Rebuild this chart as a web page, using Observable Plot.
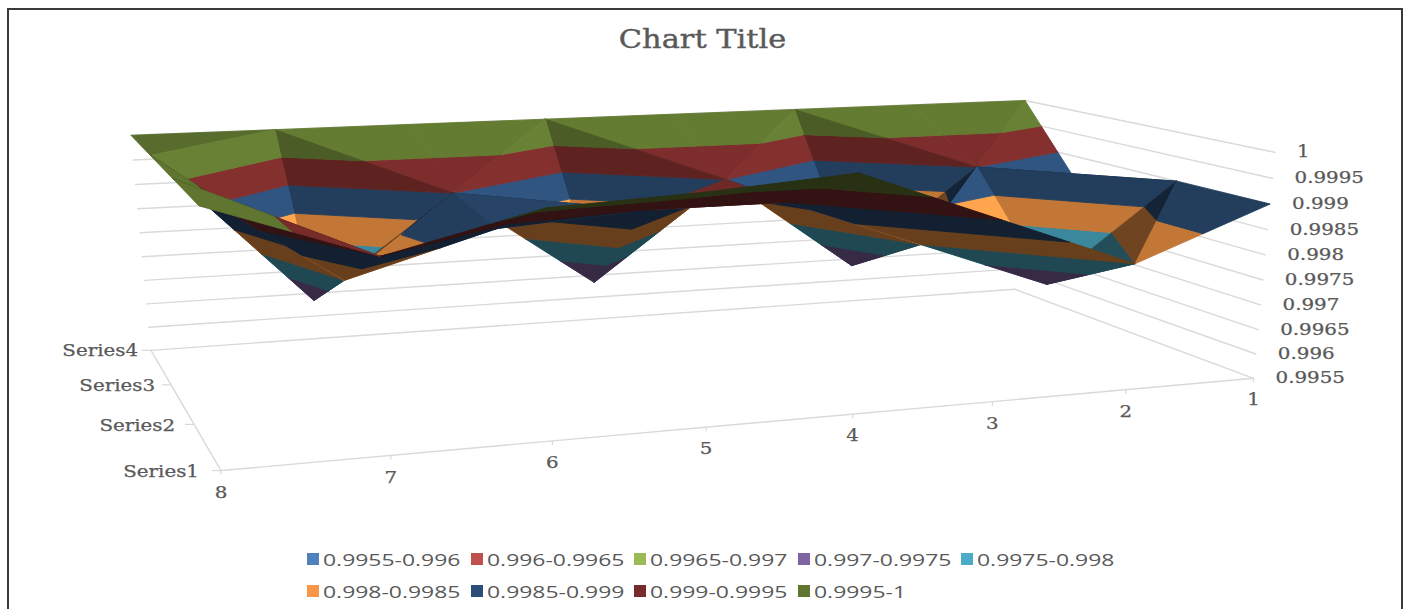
<!DOCTYPE html>
<html>
<head>
<meta charset="utf-8">
<script src="https://cdn.jsdelivr.net/npm/d3@7"></script>
<script src="https://cdn.jsdelivr.net/npm/@observablehq/plot@0.6"></script>
<style>
  html, body { margin: 0; background: #fff; }
  #page { position: relative; width: 1409px; height: 609px; overflow: hidden; }
  #frame { position: absolute; left: 7px; top: 8px; width: 1396px; height: 620px; border: 2px solid #3a3a3a; box-sizing: border-box; }
  #title { position: absolute; left: 0; width: 1406px; top: 22px; text-align: center; font: 400 26px "DejaVu Serif"; color: #595959; line-height: 34px; -webkit-text-stroke: 0.4px #595959; }
  #title span { display: inline-block; transform: scaleX(1.17); }
  #legend { position: absolute; left: 307px; top: 543px; display: grid; grid-template-columns: repeat(5, 163.5px); grid-auto-rows: 32px; font: 16.5px "Open Sans"; color: #595959; }
  #legend div { display: flex; align-items: center; white-space: nowrap; }
  #legend i { width: 12px; height: 12px; margin-right: 4px; flex: none; }
  #legend span { display: inline-block; transform: scaleX(1.39); transform-origin: left center; }
  svg { position: absolute; left: 0; top: 0; }
</style>
</head>
<body>
<div id="page">
  <div id="frame"></div>
  <div id="title"><span>Chart Title</span></div>
  <div id="chart"></div>
  <div id="legend"></div>
</div>
<script>
// Surface values, one array per series, listed from category 1 to category 8.
const categories = ["1", "2", "3", "4", "5", "6", "7", "8"];
const seriesNames = ["Series1", "Series2", "Series3", "Series4"];
const series1 = [0.999, 0.998, 0.999, 1, 0.9998, 0.99967, 0.999, 1];
const series2 = [0.999, 0.997, 0.998, 0.999, 0.999, 0.9988, 0.998, 1];
const series3 = [0.998, 0.999, 0.997, 0.999, 0.997, 0.999, 0.997, 1];
const series4 = [1, 1, 1, 1, 1, 1, 1, 1];
const zTicks = ["0.9955", "0.996", "0.9965", "0.997", "0.9975", "0.998", "0.9985", "0.999", "0.9995", "1"];
const bandLabels = ["0.9955-0.996", "0.996-0.9965", "0.9965-0.997", "0.997-0.9975", "0.9975-0.998", "0.998-0.9985", "0.9985-0.999", "0.999-0.9995", "0.9995-1"];
const bandColors = ["#4f81bd", "#c0504d", "#9bbb59", "#8064a2", "#4bacc6", "#f79646", "#2c4d75", "#772c2a", "#5f7530"];

const grid = [series1, series2, series3, series4];
const zValues = zTicks.map(Number);
const zMin = zValues[0], zMax = zValues[zValues.length - 1];

// Perspective camera of the 3D box, solved from where its eight corners land on the page.
// Each entry is [cat 0..1, series 0..1, height 0..1, pageX, pageY].
const boxCorners = [
  [1, 1, 0, 150, 350], [0, 1, 0, 1015, 288.5], [0, 0, 0, 1252.5, 378], [1, 0, 0, 221, 470],
  [1, 1, 1, 131, 135], [0, 1, 1, 1024, 100], [0, 0, 1, 1275, 152], [1, 0, 1, 198, 205]
];

function solveCamera(corners) {
  const rows = [];
  for (const [u, v, w, x, y] of corners) {
    rows.push([u, v, w, 1, 0, 0, 0, 0, -x * u, -x * v, -x * w, x]);
    rows.push([0, 0, 0, 0, u, v, w, 1, -y * u, -y * v, -y * w, y]);
  }
  const n = 11;
  const m = d3.range(n).map(i => d3.range(n + 1).map(j => d3.sum(rows, r => r[i] * r[j === n ? 11 : j])));
  for (let i = 0; i < n; i++) {
    let p = i;
    for (let r = i + 1; r < n; r++) if (Math.abs(m[r][i]) > Math.abs(m[p][i])) p = r;
    [m[i], m[p]] = [m[p], m[i]];
    for (let r = 0; r < n; r++) {
      if (r === i) continue;
      const f = m[r][i] / m[i][i];
      for (let c = i; c <= n; c++) m[r][c] -= f * m[i][c];
    }
  }
  return m.map((r, i) => r[n] / r[i]);
}
const cam = solveCamera(boxCorners);

// Projects a position (category number, series number, value) onto the page plane.
function project(cat, ser, z) {
  const u = (cat - 1) / 7, v = (ser - 1) / 3, w = (z - zMin) / (zMax - zMin);
  const d = cam[8] * u + cam[9] * v + cam[10] * w + 1;
  return [
    (cam[0] * u + cam[1] * v + cam[2] * w + cam[3]) / d,
    (cam[4] * u + cam[5] * v + cam[6] * w + cam[7]) / d
  ];
}

// Clips a polygon of 3D points to the half space where sign * (z - limit) >= 0.
function clip(poly, limit, sign) {
  const out = [];
  poly.forEach((a, i) => {
    const b = poly[(i + 1) % poly.length];
    const da = sign * (a[2] - limit), db = sign * (b[2] - limit);
    if (da >= 0) out.push(a);
    if ((da > 0 && db < 0) || (da < 0 && db > 0)) {
      const t = da / (da - db);
      out.push([a[0] + t * (b[0] - a[0]), a[1] + t * (b[1] - a[1]), a[2] + t * (b[2] - a[2])]);
    }
  });
  return out;
}

const signedArea = pts => (pts[1][0] - pts[0][0]) * (pts[2][1] - pts[0][1]) - (pts[2][0] - pts[0][0]) * (pts[1][1] - pts[0][1]);

// Brightness of a face: undersides and faces tipped away from the front are dim,
// the rest depend on their slope along the categories and towards the front.
function brightness(tri) {
  const flatArea = signedArea(tri.map(p => project(p[0], p[1], zMin)));
  const seenArea = signedArea(tri.map(p => project(p[0], p[1], p[2])));
  if (flatArea * seenArea <= 0) return 0.42;
  const [a, b, c] = tri;
  const det = (b[0] - a[0]) * (c[1] - a[1]) - (c[0] - a[0]) * (b[1] - a[1]);
  const slopeCat = ((b[2] - a[2]) * (c[1] - a[1]) - (c[2] - a[2]) * (b[1] - a[1])) / det;
  const slopeSer = ((c[2] - a[2]) * (b[0] - a[0]) - (b[2] - a[2]) * (c[0] - a[0])) / det;
  if (slopeSer < -0.0003) return 0.45;
  if (slopeSer < 0.0003 && slopeCat < -0.0015) return 0.98;
  if (slopeSer < 0.0003 && slopeCat > 0) return 1.0;
  const base = slopeSer >= 0.0004 ? 1.05 : 0.93;
  return Math.max(0.79, Math.min(1.1, base + 0.25 * slopeCat / 0.001));
}

function shaded(color, k) {
  const c = d3.rgb(color);
  return d3.rgb(Math.min(255, c.r * k), Math.min(255, c.g * k), Math.min(255, c.b * k)).formatHex();
}

// Splits the surface into triangles, back row first and the far category first, so nearer faces paint over.
const vertex = (col, row) => [col + 1, row + 1, grid[row][col]];
const facePieces = [];
let pieceId = 0;
for (let row = seriesNames.length - 1; row > 0; row--) {
  for (let col = 0; col < categories.length - 1; col++) {
    const bl = vertex(col, row), br = vertex(col + 1, row), fl = vertex(col, row - 1), fr = vertex(col + 1, row - 1);
    const tris = bl[2] + fr[2] >= br[2] + fl[2]
      ? [[bl, br, fr], [bl, fr, fl]]
      : [[br, fr, fl], [br, fl, bl]];
    const depth = t => d3.sum(t, p => p[0] - p[1]);
    tris.sort((a, b) => depth(a) - depth(b));
    for (const tri of tris) {
      const k = brightness(tri);
      bandColors.forEach((color, i) => {
        let poly = clip(tri, zValues[i], 1);
        if (poly.length) poly = clip(poly, zValues[i + 1], -1);
        if (poly.length < 3) return;
        const fill = shaded(color, k);
        const id = pieceId++;
        for (const p of [...poly, poly[0]]) {
          const [px, py] = project(p[0], p[1], p[2]);
          facePieces.push({id, px, py, fill});
        }
      });
    }
  }
}

// Floor edges and the grid lines on the two walls.
const axisLines = [];
const addLine = (id, a, b) => {
  for (const p of [a, b]) {
    const [px, py] = project(...p);
    axisLines.push({id, px, py});
  }
};
addLine("front", [8, 1, zMin], [1, 1, zMin]);
addLine("left", [8, 1, zMin], [8, 4, zMin]);
zValues.forEach(z => {
  addLine("back" + z, [8, 4, z], [1, 4, z]);
  addLine("side" + z, [1, 4, z], [1, 1, z]);
});

const catAxis = categories.map((label, i) => {
  const [px, py] = project(i + 1, 1, zMin);
  return {label, px, py};
});
const serAxis = seriesNames.map((label, i) => {
  const [px, py] = project(8, i + 1, zMin);
  return {label, px, py, gap: 22 - 3 * i};
});
const valAxis = zTicks.map((label, i) => {
  const [px, py] = project(1, 1, zValues[i]);
  return {label, px, py};
});

const labelStyle = {fontFamily: "DejaVu Serif", fontSize: 16, fill: "#595959", stroke: "#595959", strokeWidth: 0.25};
const plot = Plot.plot({
  width: 1409,
  height: 609,
  margin: 0,
  style: {background: "transparent"},
  x: {domain: [0, 1409], range: [0, 1409], axis: null},
  y: {domain: [0, 609], range: [0, 609], axis: null},
  marks: [
    Plot.line(axisLines, {x: "px", y: "py", z: "id", stroke: "#d9d9d9", strokeWidth: 1.4}),
    Plot.link(catAxis, {x1: "px", y1: "py", x2: "px", y2: d => d.py + 4, stroke: "#d9d9d9", strokeWidth: 1.2}),
    Plot.link(serAxis, {x1: "px", y1: "py", x2: d => d.px - 9, y2: "py", stroke: "#d9d9d9", strokeWidth: 1.2}),
    Plot.line(facePieces, {x: "px", y: "py", z: "id", fill: "fill", stroke: "fill", strokeWidth: 0.9}),
    Plot.text(catAxis, {x: "px", y: "py", text: "label", dy: 22, ...labelStyle}),
    Plot.text(serAxis, {x: d => d.px - d.gap, y: "py", text: "label", textAnchor: "end", dy: 1, ...labelStyle}),
    Plot.text(valAxis, {x: "px", y: "py", text: "label", textAnchor: "start", dx: 22, ...labelStyle})
  ]
});
document.getElementById("chart").append(plot);

// The chart's lettering runs wide, so each label is stretched along its baseline.
plot.querySelectorAll("text").forEach(t => {
  t.querySelectorAll("tspan").forEach(s => {
    s.setAttribute("textLength", s.getComputedTextLength() * 1.24);
    s.setAttribute("lengthAdjust", "spacingAndGlyphs");
  });
  if (!t.querySelector("tspan")) {
    t.setAttribute("textLength", t.getComputedTextLength() * 1.24);
    t.setAttribute("lengthAdjust", "spacingAndGlyphs");
  }
});

const legend = d3.select("#legend");
bandLabels.forEach((label, i) => {
  const item = legend.append("div");
  item.append("i").style("background", bandColors[i]);
  item.append("span").text(label);
});
</script>
</body>
</html>
